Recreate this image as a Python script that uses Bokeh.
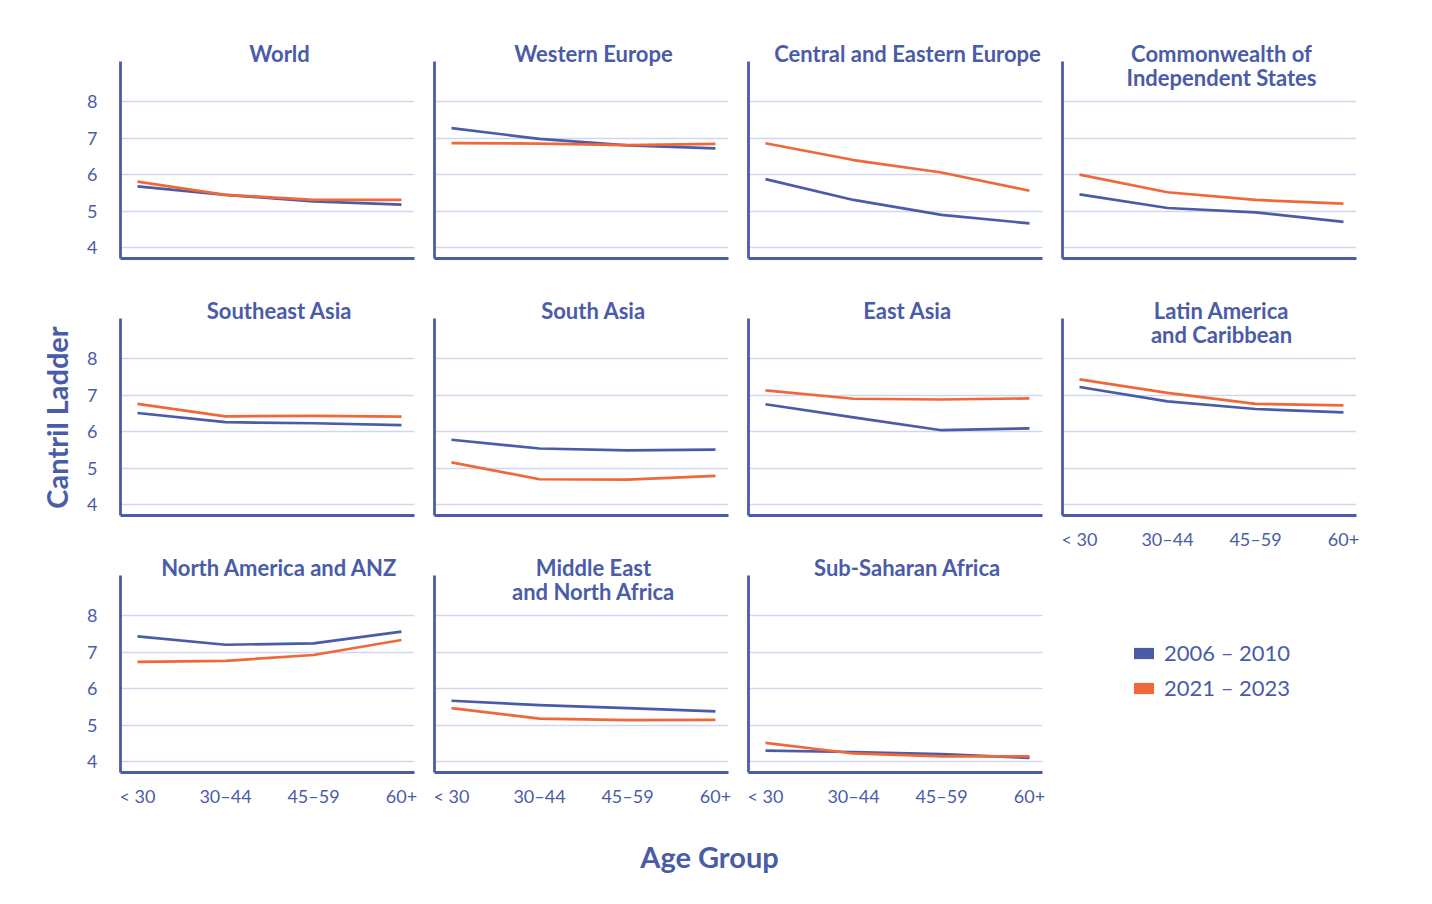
from bokeh.plotting import figure
from bokeh.models import Label, Legend, LegendItem, FixedTicker, Range1d, ColumnDataSource
from bokeh.layouts import row, column
from bokeh.embed import file_html
from bokeh.resources import INLINE

# ---------------- data ----------------
age_groups = ["< 30", "30–44", "45–59", "60+"]
series_names = ["2006 – 2010", "2021 – 2023"]

world_early = [5.68, 5.45, 5.27, 5.18]
world_late = [5.81, 5.45, 5.31, 5.31]
weur_early = [7.27, 6.98, 6.80, 6.72]
weur_late = [6.86, 6.85, 6.81, 6.84]
cee_early = [5.88, 5.31, 4.90, 4.67]
cee_late = [6.86, 6.40, 6.06, 5.56]
cis_early = [5.46, 5.09, 4.97, 4.71]
cis_late = [6.00, 5.52, 5.31, 5.21]
sea_early = [6.51, 6.26, 6.23, 6.18]
sea_late = [6.76, 6.42, 6.43, 6.41]
sa_early = [5.78, 5.54, 5.49, 5.51]
sa_late = [5.16, 4.70, 4.69, 4.79]
ea_early = [6.75, 6.39, 6.04, 6.09]
ea_late = [7.13, 6.90, 6.88, 6.91]
lac_early = [7.22, 6.83, 6.62, 6.53]
lac_late = [7.43, 7.06, 6.76, 6.72]
nam_early = [7.43, 7.20, 7.24, 7.56]
nam_late = [6.73, 6.76, 6.92, 7.33]
mena_early = [5.67, 5.55, 5.47, 5.38]
mena_late = [5.47, 5.18, 5.14, 5.15]
ssa_early = [4.31, 4.27, 4.21, 4.11]
ssa_late = [4.52, 4.23, 4.15, 4.15]

region_titles = [
    ["World"],
    ["Western Europe"],
    ["Central and Eastern Europe"],
    ["Commonwealth of", "Independent States"],
    ["Southeast Asia"],
    ["South Asia"],
    ["East Asia"],
    ["Latin America", "and Caribbean"],
    ["North America and ANZ"],
    ["Middle East", "and North Africa"],
    ["Sub-Saharan Africa"],
]
region_early = [world_early, weur_early, cee_early, cis_early, sea_early, sa_early,
                ea_early, lac_early, nam_early, mena_early, ssa_early]
region_late = [world_late, weur_late, cee_late, cis_late, sea_late, sa_late,
               ea_late, lac_late, nam_late, mena_late, ssa_late]
y_ticks = [4, 5, 6, 7, 8]

# ---------------- style ----------------
BLUE = "#4A5CA8"
ORANGE = "#F0683A"
GRID = "#D3D5EC"
FONT = "Lato"

FRAME_W = 294
PX_PER_UNIT = 36.6
Y0 = 3.71
X_RANGE = (-0.193, 3.148)
LEFT_W = 80

# per-row geometry: (top border, frame height, bottom border)
ROW_GEOM = [(8, 250, 20), (0, 237, 38), (0, 219, 42)]


def make_panel(idx, col, geom, show_x_labels):
    top_b, frame_h, bot_b = geom
    y_top = Y0 + frame_h / PX_PER_UNIT
    p = figure(frame_width=FRAME_W, frame_height=frame_h,
               x_range=Range1d(*X_RANGE), y_range=Range1d(Y0, y_top),
               output_backend="svg", toolbar_location=None, title=None,
               min_border_left=40 if col == 0 else 10, min_border_right=10,
               min_border_top=top_b, min_border_bottom=bot_b,
               outline_line_color=None, background_fill_color="white",
               border_fill_color="white")
    xs = list(range(len(age_groups)))
    src = ColumnDataSource(dict(x=xs, early=region_early[idx], late=region_late[idx]))
    p.line("x", "early", source=src, line_color=BLUE, line_width=2.7, line_join="round")
    p.line("x", "late", source=src, line_color=ORANGE, line_width=2.7, line_join="round")

    # x axis
    xa = p.xaxis[0]
    xa.ticker = FixedTicker(ticks=xs if show_x_labels else [])
    xa.major_label_overrides = {i: lab for i, lab in enumerate(age_groups)}
    xa.axis_line_color = BLUE
    xa.axis_line_width = 2.8
    xa.major_tick_line_color = None
    xa.minor_tick_line_color = None
    xa.major_label_text_color = BLUE
    xa.major_label_text_font = FONT
    xa.major_label_text_font_size = "18px"
    xa.major_label_standoff = 6

    # y axis
    ya = p.yaxis[0]
    ya.ticker = FixedTicker(ticks=y_ticks if col == 0 else [])
    ya.bounds = (Y0, 9.1)
    ya.axis_line_color = BLUE
    ya.axis_line_width = 2.8
    ya.major_tick_line_color = None
    ya.minor_tick_line_color = None
    ya.major_label_text_color = BLUE
    ya.major_label_text_font = FONT
    ya.major_label_text_font_size = "18px"
    ya.major_label_standoff = 17

    p.xgrid.grid_line_color = None
    p.ygrid.ticker = FixedTicker(ticks=y_ticks)
    p.ygrid.grid_line_color = GRID
    p.ygrid.grid_line_width = 1.4

    # title lines
    cx = X_RANGE[0] + 159 / (FRAME_W / (X_RANGE[1] - X_RANGE[0]))
    for j, line in enumerate(region_titles[idx]):
        p.add_layout(Label(x=cx, y=9.3 - j * 24 / PX_PER_UNIT, text=line,
                           text_align="center", text_baseline="middle",
                           text_font=FONT, text_font_style="bold",
                           text_font_size="22px", text_color=BLUE))
    return p


panels = []
for i in range(11):
    r, c = divmod(i, 4)
    show_x = (r == 2) or (i == 7)
    panels.append(make_panel(i, c, ROW_GEOM[r], show_x))

# legend panel (same size as a row-3 panel)
top_b, frame_h, bot_b = ROW_GEOM[2]
leg = figure(frame_width=FRAME_W, frame_height=frame_h, x_range=Range1d(0, 1), y_range=Range1d(0, 1),
             output_backend="svg", toolbar_location=None, title=None,
             x_axis_type=None, y_axis_type=None,
             min_border_left=10, min_border_right=10, min_border_top=top_b, min_border_bottom=bot_b,
             outline_line_color=None, border_fill_color="white", background_fill_color="white")
leg.xgrid.grid_line_color = None
leg.ygrid.grid_line_color = None
# swatch renderers: zero-height bars, so only their legend swatches are visible
stub = ColumnDataSource(dict(x=[0.5], top=[0.0]))
r_early = leg.vbar(x="x", top="top", bottom=0.0, width=0.1, source=stub, fill_color=BLUE, line_color=None)
r_late = leg.vbar(x="x", top="top", bottom=0.0, width=0.1, source=stub, fill_color=ORANGE, line_color=None)
legend = Legend(items=[LegendItem(label=series_names[0], renderers=[r_early]),
                       LegendItem(label=series_names[1], renderers=[r_late])],
                location=(69, 71), orientation="vertical",
                glyph_width=25, glyph_height=14, label_standoff=8,
                label_text_font=FONT, label_text_font_size="22px", label_text_color=BLUE,
                padding=0, margin=0, spacing=8, border_line_color=None,
                background_fill_alpha=0)
leg.add_layout(legend)

BOTTOM_H = 72
BOTTOM_TOP = sum(sum(g) for g in ROW_GEOM)
TOTAL_H = BOTTOM_TOP + BOTTOM_H
GRID_W = (40 + FRAME_W + 10) + 3 * (10 + FRAME_W + 10)

# y-axis title
left = figure(width=LEFT_W, height=TOTAL_H, x_range=Range1d(0, LEFT_W), y_range=Range1d(0, TOTAL_H),
              output_backend="svg", toolbar_location=None, title=None,
              x_axis_type=None, y_axis_type=None, min_border=0,
              outline_line_color=None, border_fill_color="white", background_fill_color="white")
left.xgrid.grid_line_color = None
left.ygrid.grid_line_color = None
left.add_layout(Label(x=56, y=TOTAL_H - 417, text="Cantril Ladder", angle=1.5708,
                      text_align="center", text_baseline="middle", text_font=FONT,
                      text_font_style="bold", text_font_size="29px", text_color=BLUE))

# x-axis title
bottom = figure(width=GRID_W, height=BOTTOM_H, x_range=Range1d(0, GRID_W), y_range=Range1d(0, BOTTOM_H),
                output_backend="svg", toolbar_location=None, title=None,
                x_axis_type=None, y_axis_type=None, min_border=0,
                outline_line_color=None, border_fill_color="white", background_fill_color="white")
bottom.xgrid.grid_line_color = None
bottom.ygrid.grid_line_color = None
bottom.add_layout(Label(x=709 - LEFT_W, y=BOTTOM_H - (856 - BOTTOM_TOP), text="Age Group",
                        text_align="center", text_baseline="middle", text_font=FONT,
                        text_font_style="bold", text_font_size="29px", text_color=BLUE))

grid = column(row(*panels[0:4]), row(*panels[4:8]), row(*panels[8:11], leg), bottom)
layout = row(left, grid)

open("out.html", "w").write(file_html(layout, INLINE))
